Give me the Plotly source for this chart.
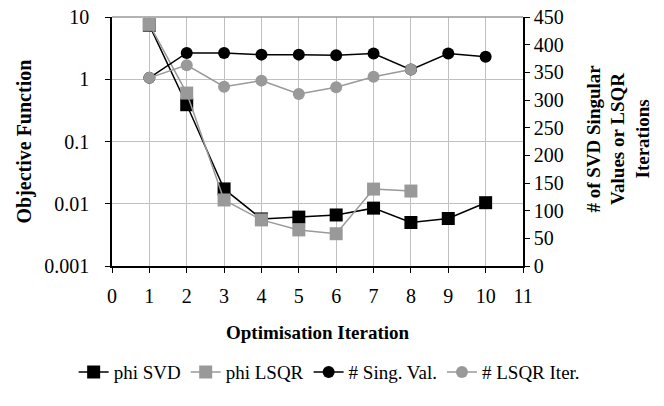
import plotly.graph_objects as go

iters = [1, 2, 3, 4, 5, 6, 7, 8, 9, 10]
phi_svd = [7.4, 0.39, 0.0173, 0.0057, 0.0061, 0.0066, 0.0085, 0.0050, 0.0058, 0.0104]
iters_lsqr = [1, 2, 3, 4, 5, 6, 7, 8]
phi_lsqr = [7.6, 0.60, 0.0115, 0.0055, 0.0038, 0.0033, 0.0172, 0.0160]
sing_val = [340, 385, 385, 382, 382, 381, 384, 355, 384, 378]
lsqr_iter = [340, 363, 324, 335, 311, 323, 342, 355]

left_ticks = [0.001, 0.01, 0.1, 1, 10]
left_ticktext = ["0.001", "0.01", "0.1", "1", "10"]

BLACK = "#000000"
GRAY = "#999999"
FONT = "Liberation Serif"
tf = dict(family=FONT, size=20, color="black")

fig = go.Figure()
fig.add_trace(go.Scatter(x=iters, y=phi_svd, name="phi SVD", mode="lines+markers",
                         line=dict(color=BLACK, width=1.5),
                         marker=dict(symbol="square", size=13, color=BLACK), yaxis="y"))
fig.add_trace(go.Scatter(x=iters_lsqr, y=phi_lsqr, name="phi LSQR", mode="lines+markers",
                         line=dict(color=GRAY, width=1.5),
                         marker=dict(symbol="square", size=13, color=GRAY), yaxis="y"))
fig.add_trace(go.Scatter(x=iters, y=sing_val, name="# Sing. Val.", mode="lines+markers",
                         line=dict(color=BLACK, width=1.5),
                         marker=dict(symbol="circle", size=12, color=BLACK), yaxis="y2"))
fig.add_trace(go.Scatter(x=iters_lsqr, y=lsqr_iter, name="# LSQR Iter.", mode="lines+markers",
                         line=dict(color=GRAY, width=1.5),
                         marker=dict(symbol="circle", size=12, color=GRAY), yaxis="y2"))

fig.update_layout(
    width=664, height=406,
    margin=dict(l=112, r=141, t=17, b=140, autoexpand=False),
    paper_bgcolor="white", plot_bgcolor="white",
    font=tf,
    showlegend=True,
    legend=dict(orientation="h", x=1.15, xanchor="right", y=-0.426, yanchor="middle",
                font=dict(family=FONT, size=19), itemwidth=30, tracegroupgap=0),
    xaxis=dict(range=[0, 11], dtick=1, tick0=0, showgrid=True, gridcolor="#c0c0c0",
               showline=True, linecolor="black", linewidth=1.5, mirror=False,
               ticks="outside", ticklen=5, tickcolor="black", zeroline=False,
               ticklabelstandoff=6, tickfont=tf, automargin=False),
    yaxis=dict(type="log", range=[-3, 1], tickvals=left_ticks, ticktext=left_ticktext,
               showgrid=True, gridcolor="#c0c0c0", showline=True, linecolor="black", linewidth=1.5,
               ticks="outside", ticklen=5, tickcolor="black", zeroline=False,
               ticklabelstandoff=12, tickfont=tf, automargin=False),
    yaxis2=dict(overlaying="y", side="right", range=[0, 450], dtick=50, tick0=0,
                showgrid=False, showline=True, linecolor="black", linewidth=1.5,
                ticks="outside", ticklen=5, tickcolor="black", zeroline=False,
                tickfont=tf, automargin=False),
    annotations=[
        dict(text="<b># of SVD Singular<br>Values or LSQR<br>Iterations</b>",
             xref="paper", yref="paper", x=1.23, y=0.51, xanchor="center", yanchor="middle",
             textangle=-90, showarrow=False, font=dict(family=FONT, size=19)),
        dict(text="<b>Objective Function</b>",
             xref="paper", yref="paper", x=-0.214, y=0.5, xanchor="center", yanchor="middle",
             textangle=-90, showarrow=False, font=dict(family=FONT, size=20)),
        dict(text="<b>Optimisation Iteration</b>",
             xref="paper", yref="paper", x=0.5, y=-0.269, xanchor="center", yanchor="middle",
             showarrow=False, font=dict(family=FONT, size=19)),
    ],
    shapes=[dict(type="line", xref="paper", yref="paper", x0=0, x1=1, y0=1, y1=1,
                 line=dict(color="#999999", width=1.5))],
)

fig.write_html("out.html")
